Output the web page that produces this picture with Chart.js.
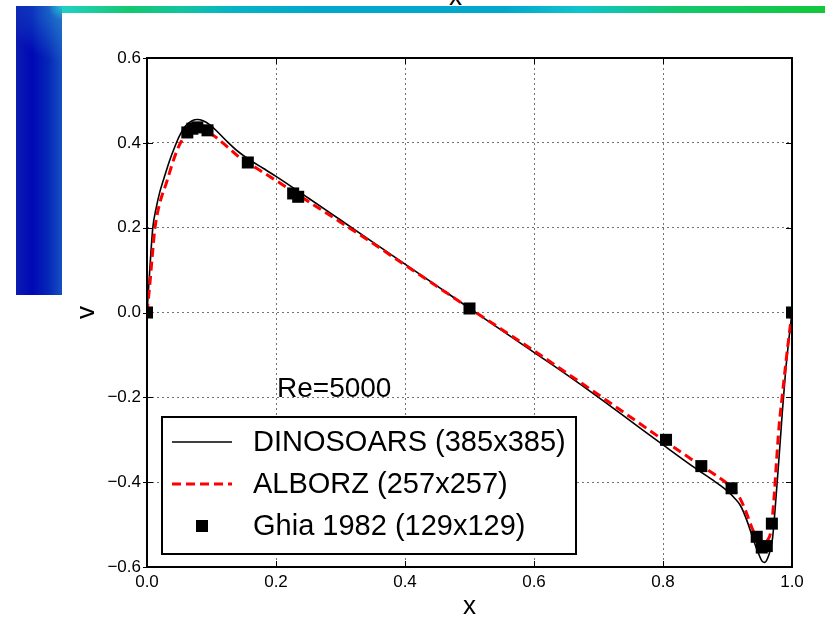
<!DOCTYPE html>
<html>
<head>
<meta charset="utf-8">
<script src="https://cdn.jsdelivr.net/npm/chart.js@4.4.1/dist/chart.umd.min.js"></script>
<style>
  html, body { margin: 0; padding: 0; background: #ffffff; }
  #wrap { position: relative; width: 825px; height: 620px; overflow: hidden; background: #fff; }
  #bar { position: absolute; left: 16px; top: 6px; width: 46px; height: 289px;
    background:
      radial-gradient(circle at 100% 0%, rgba(40,200,210,0.95) 0px, rgba(40,140,210,0.55) 14px, rgba(30,90,200,0) 55px),
      linear-gradient(to right, #0c1cb2 0%, #0008b4 35%, #0626b8 70%, #1650c2 100%); }
  #stripe { position: absolute; left: 62px; top: 6px; width: 763px; height: 7px;
    background: linear-gradient(to right, #22d0c4 0%, #14c870 9%, #12c4a0 16%, #06b4c4 22%, #02a8cc 33%, #02a8cc 58%, #10c4cc 68%, #12c870 80%, #12c83a 100%); }
  #topx { position: absolute; left: 449px; top: -17px; font: 26px/26px "Liberation Sans", Arial, sans-serif; color: #000; }
  canvas { position: absolute; left: 0; top: 0; }
</style>
</head>
<body>
<div id="wrap">
  <div id="bar"></div>
  <div id="stripe"></div>
  <div id="topx">x</div>
  <canvas id="c" width="825" height="620"></canvas>
</div>
<script>
// ---------------- data ----------------
const xTickLabels = ['0.0', '0.2', '0.4', '0.6', '0.8', '1.0'];
const yTickLabels = ['\u22120.6', '\u22120.4', '\u22120.2', '0.0', '0.2', '0.4', '0.6'];

const dinoX = [0, 0.003, 0.006, 0.009, 0.014, 0.02, 0.027, 0.035, 0.043, 0.05, 0.06, 0.07, 0.078, 0.087, 0.098, 0.11, 0.123, 0.14, 0.16, 0.18, 0.2, 0.25, 0.3, 0.35, 0.4, 0.45, 0.5, 0.55, 0.6, 0.65, 0.7, 0.75, 0.8, 0.85, 0.88, 0.9, 0.91, 0.92, 0.93, 0.94, 0.948, 0.954, 0.958, 0.962, 0.966, 0.97, 0.975, 0.98, 0.985, 0.99, 0.995, 1.0];
const dinoV = [0, 0.07, 0.14, 0.2, 0.245, 0.285, 0.32, 0.358, 0.39, 0.415, 0.44, 0.452, 0.455, 0.452, 0.442, 0.425, 0.405, 0.381, 0.359, 0.34, 0.321, 0.270, 0.218, 0.166, 0.114, 0.062, 0.010, -0.042, -0.094, -0.146, -0.200, -0.256, -0.312, -0.367, -0.398, -0.421, -0.436, -0.455, -0.49, -0.535, -0.568, -0.587, -0.589, -0.58, -0.562, -0.53, -0.44, -0.34, -0.235, -0.14, -0.065, 0];

const alborzX = [0, 0.004, 0.008, 0.012, 0.017, 0.022, 0.03, 0.038, 0.046, 0.053, 0.06, 0.068, 0.077, 0.087, 0.098, 0.108, 0.125, 0.144, 0.17, 0.196, 0.25, 0.3, 0.35, 0.4, 0.45, 0.5, 0.55, 0.6, 0.65, 0.7, 0.75, 0.8, 0.85, 0.88, 0.9, 0.91, 0.92, 0.93, 0.938, 0.945, 0.952, 0.957, 0.962, 0.967, 0.972, 0.976, 0.98, 0.985, 0.99, 0.995, 1.0];
const alborzV = [0, 0.06, 0.13, 0.195, 0.24, 0.27, 0.305, 0.345, 0.38, 0.403, 0.418, 0.428, 0.432, 0.43, 0.422, 0.412, 0.39, 0.365, 0.34, 0.315, 0.262, 0.213, 0.163, 0.112, 0.061, 0.01, -0.04, -0.09, -0.142, -0.194, -0.247, -0.300, -0.352, -0.382, -0.404, -0.418, -0.44, -0.475, -0.508, -0.53, -0.541, -0.543, -0.537, -0.517, -0.44, -0.35, -0.267, -0.195, -0.125, -0.06, 0];

const ghiaX = [1.0000, 0.9688, 0.9609, 0.9531, 0.9453, 0.9063, 0.8594, 0.8047, 0.5000, 0.2344, 0.2266, 0.1563, 0.0938, 0.0781, 0.0703, 0.0625, 0.0000];
const ghiaV = [0.0, -0.49774, -0.55069, -0.55408, -0.52876, -0.41442, -0.36214, -0.30018, 0.00945, 0.27280, 0.28066, 0.35368, 0.42951, 0.43648, 0.43329, 0.42447, 0.0];

const seriesLabels = ['DINOSOARS (385x385)', 'ALBORZ (257x257)', 'Ghia 1982 (129x129)'];
const annotationText = 'Re=5000';
const xTitle = 'x';
const yTitle = 'v';

// ---------------- chart ----------------
const pts = (xs, ys) => xs.map((x, i) => ({ x: x, y: ys[i] }));
const FONT = "'Liberation Sans', Arial, Helvetica, sans-serif";
Chart.defaults.font.family = FONT;
Chart.defaults.color = '#000';

const tickFmt = (labels, min) => (v) => {
  const idx = Math.round((v - min) / 0.2);
  return labels[idx] !== undefined ? labels[idx] : '';
};

const decor = {
  id: 'decor',
  afterDatasetsDraw(chart) {
    const ctx = chart.ctx;
    const a = chart.chartArea;
    const xs = chart.scales.x, ys = chart.scales.y;
    ctx.save();
    // inward tick marks
    ctx.strokeStyle = '#000';
    ctx.lineWidth = 1;
    ctx.setLineDash([]);
    xs.ticks.forEach(t => {
      const px = Math.round(xs.getPixelForValue(t.value)) + 0.5;
      ctx.beginPath();
      ctx.moveTo(px, a.bottom); ctx.lineTo(px, a.bottom - 6);
      ctx.moveTo(px, a.top); ctx.lineTo(px, a.top + 6);
      ctx.stroke();
    });
    ys.ticks.forEach(t => {
      const py = Math.round(ys.getPixelForValue(t.value)) + 0.5;
      ctx.beginPath();
      ctx.moveTo(a.left, py); ctx.lineTo(a.left + 6, py);
      ctx.moveTo(a.right, py); ctx.lineTo(a.right - 6, py);
      ctx.moveTo(a.left, py); ctx.lineTo(a.left - 4, py);
      ctx.stroke();
    });
    // frame
    ctx.lineWidth = 2;
    ctx.strokeRect(a.left, a.top, a.right - a.left, a.bottom - a.top);

    // annotation
    ctx.font = '28px ' + FONT;
    ctx.fillStyle = '#000';
    ctx.textAlign = 'left';
    ctx.textBaseline = 'middle';
    ctx.fillText(annotationText, 277, 389);

    // legend
    const bx = 162, by = 417, bw = 414, bh = 137;
    ctx.fillStyle = '#fff';
    ctx.fillRect(bx, by, bw, bh);
    ctx.lineWidth = 2;
    ctx.strokeStyle = '#000';
    ctx.strokeRect(bx, by, bw, bh);
    const rows = [442, 484, 526];
    chart.data.datasets.forEach((ds, i) => {
      const y = rows[i];
      ctx.save();
      if (ds.showLine) {
        ctx.strokeStyle = ds.borderColor;
        ctx.lineWidth = ds.borderWidth;
        ctx.setLineDash(ds.borderDash || []);
        ctx.beginPath();
        ctx.moveTo(172, y); ctx.lineTo(232, y);
        ctx.stroke();
      } else {
        ctx.fillStyle = ds.backgroundColor;
        ctx.fillRect(202 - 6, y - 6, 12, 12);
      }
      ctx.restore();
      ctx.font = '29px ' + FONT;
      ctx.fillStyle = '#000';
      ctx.textBaseline = 'middle';
      ctx.fillText(ds.label, 253, y + 1);
    });
    ctx.restore();
  }
};

new Chart(document.getElementById('c'), {
  type: 'scatter',
  data: {
    datasets: [
      { label: seriesLabels[0], data: pts(dinoX, dinoV), showLine: true, borderColor: '#000', backgroundColor: '#000',
        borderWidth: 1.6, pointRadius: 0, cubicInterpolationMode: 'monotone', order: 2 },
      { label: seriesLabels[1], data: pts(alborzX, alborzV), showLine: true, borderColor: '#ff0000', backgroundColor: '#ff0000',
        borderWidth: 3, borderDash: [9, 5], pointRadius: 0, cubicInterpolationMode: 'monotone', order: 1 },
      { label: seriesLabels[2], data: pts(ghiaX, ghiaV), showLine: false, borderColor: '#000', backgroundColor: '#000',
        pointStyle: 'rect', pointRadius: 8.5, borderWidth: 0, order: 0 }
    ]
  },
  options: {
    responsive: false,
    animation: false,
    devicePixelRatio: 1,
    layout: { padding: { left: 0, top: 58, right: 33, bottom: 0 } },
    plugins: { legend: { display: false }, tooltip: { enabled: false } },
    scales: {
      x: {
        type: 'linear', min: 0, max: 1,
        afterFit: (s) => { s.height = 53; },
        ticks: { stepSize: 0.2, callback: tickFmt(xTickLabels, 0), font: { size: 17 }, color: '#000', padding: 5, maxRotation: 0 },
        grid: { color: 'rgba(0,0,0,0.55)', lineWidth: 1, drawTicks: false },
        border: { display: false, dash: [2, 3] },
        title: { display: true, text: xTitle, font: { size: 26, lineHeight: 1 }, color: '#000', padding: { top: 0, bottom: 0 } }
      },
      y: {
        type: 'linear', min: -0.6, max: 0.6,
        afterFit: (s) => { s.width = 147; },
        ticks: { stepSize: 0.2, callback: tickFmt(yTickLabels, -0.6), font: { size: 17 }, color: '#000', padding: 6 },
        grid: { color: 'rgba(0,0,0,0.55)', lineWidth: 1, drawTicks: false },
        border: { display: false, dash: [2, 3] },
        title: { display: true, text: yTitle, font: { size: 26, lineHeight: 1 }, color: '#000', padding: { top: 74, bottom: 0 } }
      }
    }
  },
  plugins: [decor]
});
</script>
</body>
</html>
